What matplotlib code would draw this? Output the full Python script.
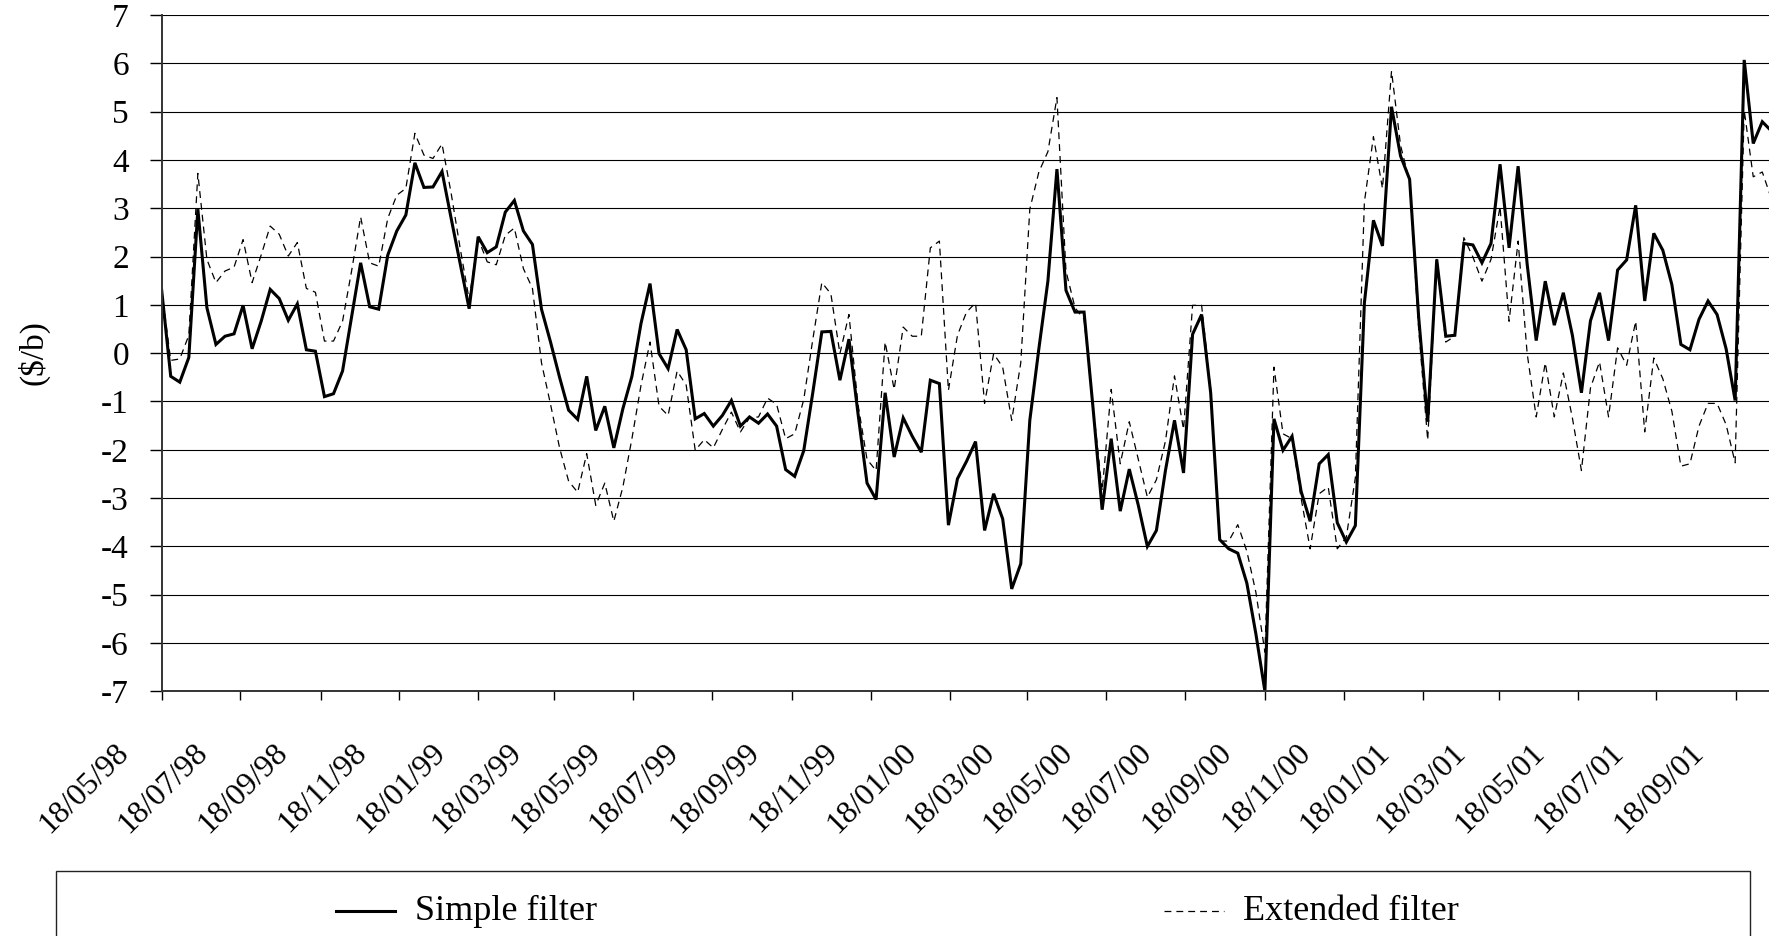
import numpy as np
import pandas as pd
import matplotlib
matplotlib.use('Agg')
import matplotlib.pyplot as plt
import matplotlib.dates as mdates
from matplotlib.lines import Line2D
from matplotlib.patches import Rectangle
from matplotlib.transforms import ScaledTranslation

plt.rcParams['font.family'] = ['Liberation Serif', 'DejaVu Serif']
plt.rcParams['axes.unicode_minus'] = False

# weekly values ($/b), first week 18/05/98
simple = [1.30, -0.48, -0.60, -0.09, 2.98, 0.94, 0.18, 0.35, 0.40, 0.99,
          0.09, 0.66, 1.32, 1.13, 0.68, 1.02, 0.07, 0.04, -0.90, -0.84,
          -0.37, 0.75, 1.87, 0.96, 0.91, 2.03, 2.53, 2.86, 3.94, 3.43,
          3.44, 3.76, 2.80, 1.86, 0.92, 2.41, 2.08, 2.20, 2.92, 3.16,
          2.53, 2.25, 0.91, 0.23, -0.50, -1.18, -1.37, -0.48, -1.60, -1.10,
          -1.96, -1.15, -0.48, 0.61, 1.44, -0.01, -0.32, 0.49, 0.07, -1.36,
          -1.25, -1.51, -1.29, -0.98, -1.51, -1.32, -1.45, -1.26, -1.51, -2.41,
          -2.55, -2.02, -0.82, 0.44, 0.45, -0.56, 0.29, -1.25, -2.69, -3.03,
          -0.82, -2.15, -1.34, -1.72, -2.05, -0.56, -0.63, -3.56, -2.60, -2.24,
          -1.83, -3.67, -2.91, -3.43, -4.88, -4.36, -1.39, 0.09, 1.49, 3.81,
          1.30, 0.85, 0.85, -1.15, -3.24, -1.77, -3.27, -2.40, -3.15, -4.00,
          -3.67, -2.43, -1.39, -2.48, 0.39, 0.80, -0.82, -3.86, -4.05, -4.14,
          -4.76, -5.81, -7.00, -1.36, -2.01, -1.72, -2.86, -3.48, -2.29, -2.10,
          -3.51, -3.91, -3.57, 1.04, 2.75, 2.22, 5.10, 4.08, 3.60, 0.75,
          -1.42, 1.94, 0.35, 0.37, 2.27, 2.24, 1.87, 2.27, 3.91, 2.18,
          3.87, 1.84, 0.26, 1.49, 0.58, 1.25, 0.37, -0.82, 0.67, 1.25,
          0.26, 1.72, 1.93, 3.06, 1.08, 2.48, 2.13, 1.42, 0.18, 0.07,
          0.70, 1.08, 0.80, 0.09, -0.98, 6.07, 4.34, 4.79, 4.60]

extended = [1.30, -0.15, -0.12, 0.37, 3.72, 1.94, 1.46, 1.70, 1.78, 2.35,
            1.46, 2.03, 2.63, 2.46, 2.01, 2.29, 1.34, 1.26, 0.25, 0.25,
            0.66, 1.70, 2.82, 1.87, 1.80, 2.79, 3.27, 3.41, 4.55, 4.10,
            4.03, 4.33, 3.32, 2.18, 1.11, 2.37, 1.89, 1.83, 2.44, 2.59,
            1.75, 1.34, -0.20, -1.06, -1.96, -2.65, -2.88, -2.08, -3.15, -2.69,
            -3.48, -2.77, -1.77, -0.67, 0.23, -1.10, -1.29, -0.37, -0.66, -2.01,
            -1.79, -1.96, -1.58, -1.22, -1.63, -1.34, -1.32, -0.93, -1.06, -1.77,
            -1.67, -0.96, 0.28, 1.46, 1.23, -0.01, 0.80, -1.06, -2.20, -2.43,
            0.23, -0.75, 0.54, 0.35, 0.35, 2.18, 2.32, -0.77, 0.37, 0.85,
            1.04, -1.04, -0.01, -0.29, -1.39, -0.20, 2.98, 3.75, 4.17, 5.29,
            1.70, 0.94, 0.70, -1.10, -2.85, -0.75, -2.29, -1.42, -2.20, -2.98,
            -2.62, -1.82, -0.47, -1.58, 0.99, 0.99, -0.77, -3.89, -3.89, -3.55,
            -4.10, -4.95, -6.19, -0.29, -1.67, -1.77, -3.00, -4.05, -2.91, -2.77,
            -4.05, -3.81, -2.58, 3.13, 4.48, 3.41, 5.84, 4.30, 3.55, 0.50,
            -1.80, 1.94, 0.23, 0.35, 2.39, 1.99, 1.49, 1.94, 3.03, 0.66,
            2.32, -0.01, -1.32, -0.20, -1.32, -0.41, -1.34, -2.43, -0.72, -0.18,
            -1.32, 0.11, -0.25, 0.66, -1.63, -0.10, -0.53, -1.20, -2.34, -2.29,
            -1.51, -1.04, -1.04, -1.48, -2.27, 5.03, 3.65, 3.75, 3.20]

tick_labels = ['18/05/98', '18/07/98', '18/09/98', '18/11/98', '18/01/99',
               '18/03/99', '18/05/99', '18/07/99', '18/09/99', '18/11/99',
               '18/01/00', '18/03/00', '18/05/00', '18/07/00', '18/09/00',
               '18/11/00', '18/01/01', '18/03/01', '18/05/01', '18/07/01',
               '18/09/01']

dates = pd.date_range('1998-05-18', periods=len(simple), freq='7D').to_numpy()
tick_dates = pd.to_datetime(tick_labels, format='%d/%m/%y').to_numpy()

fig = plt.figure(figsize=(17.69, 9.36), dpi=100)
ax = fig.add_axes([0.0914, 0.2614, 0.9086, 0.7226])

ax.plot(dates, simple, color='black', lw=2.2, solid_joinstyle='miter')
ax.plot(dates, extended, color='black', lw=0.9, dashes=(5.5, 4.0))

x0 = mdates.date2num(dates[0])
ax.set_xlim(x0, x0 + 1244.2)
ax.set_ylim(-7, 7)
ax.set_yticks(range(-7, 8))
ax.yaxis.grid(True, color='black', lw=0.8)
ax.set_axisbelow(True)

ax.set_xticks(tick_dates)
ax.set_xticklabels(tick_labels, rotation=45, ha='right', va='top')
ax.tick_params(axis='x', length=6.5, width=1.0, direction='out', pad=27,
               labelsize=23)
ax.tick_params(axis='y', length=8.6, width=1.0, direction='out', pad=15,
               labelsize=24)
shift = ScaledTranslation(-0.27, 0, fig.dpi_scale_trans)
for lab in ax.get_xticklabels():
    lab.set_transform(lab.get_transform() + shift)

for s in ['top', 'right']:
    ax.spines[s].set_visible(False)
for s in ['left', 'bottom']:
    ax.spines[s].set_color('#333333')
    ax.spines[s].set_linewidth(1.4)

fig.text(33 / 1769, 1 - 353 / 936, '($/b)', rotation=90, fontsize=24,
         ha='center', va='center')

# legend box (cut by the bottom edge of the picture)
W, H = 1769, 936
fig.add_artist(Rectangle((56 / W, -0.02), (1750 - 56) / W, 0.02 + 1 - 871 / H,
                         transform=fig.transFigure, fill=False,
                         edgecolor='#222222', lw=1.0))
ly = 1 - 911 / H
fig.add_artist(Line2D([336 / W, 395 / W], [ly, ly], transform=fig.transFigure,
                      color='black', lw=2.2))
fig.text(415 / W, ly, 'Simple filter', fontsize=26, ha='left', va='center')
fig.add_artist(Line2D([1164 / W, 1224 / W], [ly, ly], transform=fig.transFigure,
                      color='black', lw=0.9, dashes=(5.5, 4.0)))
fig.text(1243 / W, ly, 'Extended filter', fontsize=26, ha='left', va='center')

fig.savefig('out.png', dpi=100)
